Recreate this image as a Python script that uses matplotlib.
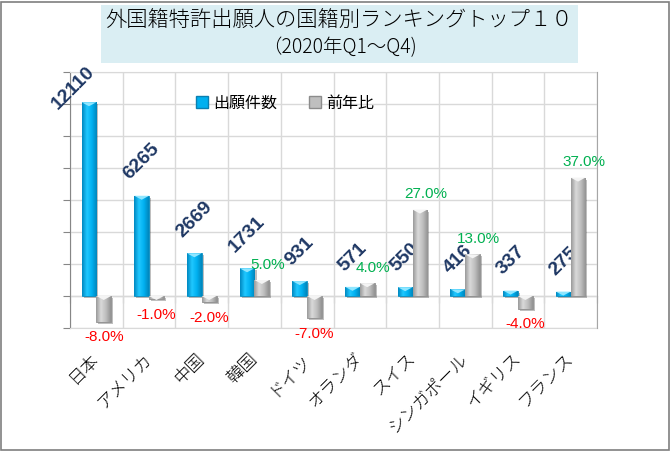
import matplotlib
matplotlib.use("Agg")
import matplotlib.pyplot as plt
import numpy as np
from matplotlib.lines import Line2D
from matplotlib.patches import Rectangle, Polygon
from matplotlib.colors import LinearSegmentedColormap
import matplotlib.patheffects as pe

JP = ['Noto Sans CJK JP', 'DejaVu Sans']
plt.rcParams['font.family'] = JP

countries = ['日本', 'アメリカ', '中国', '韓国', 'ドイツ', 'オランダ', 'スイス',
             'シンガポール', 'イギリス', 'フランス']
applications = [12110, 6265, 2669, 1731, 931, 571, 550, 416, 337, 275]
yoy_pct = [-8.0, -1.0, -2.0, 5.0, -7.0, 4.0, 27.0, 13.0, -4.0, 37.0]

title_1 = '外国籍特許出願人の国籍別ランキングトップ１０'
title_2 = '（2020年Q1～Q4)'

BLUE = '#00B0F0'
GRAY = '#BFBFBF'
NAVY = '#1F3864'
GREEN = '#00B050'
RED = '#FF0000'
GRID = '#D9D9D9'
AXIS = '#868686'

W, H = 671, 451
fig = plt.figure(figsize=(W / 100, H / 100), dpi=100)

# outer frame and title box
fig.patches.append(Rectangle((1 / W, 1 / H), 1 - 3 / W, 1 - 3 / H, transform=fig.transFigure,
                             fill=False, edgecolor='#7F7F7F', linewidth=1.2))
fig.patches.append(Rectangle((101 / W, 1 - 63 / H), 477 / W, 58 / H, transform=fig.transFigure,
                             facecolor='#DAEEF3', edgecolor='none'))
fig.text(339 / W, 1 - 21 / H, title_1, ha='center', va='center', fontsize=15.3,
         fontweight='light', color='black')
fig.text(340 / W, 1 - 48 / H, title_2, ha='center', va='center', fontsize=14,
         fontweight='light', color='black')

ax = fig.add_axes([70 / W, 1 - 328 / H, 527 / W, 256 / H])
ax2 = ax.twinx()

n = len(countries)
x = np.arange(n)
bw = 0.28

ax.set_xlim(-0.5, n - 0.5)
ax.set_ylim(-2000, 14000)
ax2.set_ylim(-10, 70)

# grid
ax.set_yticks(np.arange(-2000, 14001, 2000))
ax.set_xticks(x)
ax.set_xticks(np.arange(-0.5, n, 1.0), minor=True)
ax.grid(True, which='minor', axis='x', color=GRID, linewidth=1)
ax.grid(True, which='major', axis='y', color=GRID, linewidth=1)
ax.set_axisbelow(True)
ax.tick_params(axis='y', which='major', direction='out', length=5, color=AXIS, labelleft=False)
ax.tick_params(axis='x', which='both', length=0)
ax.set_xticklabels(countries, rotation=45, ha='right', va='center', rotation_mode='anchor',
                   fontsize=12.5, fontweight='light')
ax.tick_params(axis='x', pad=20)
ax2.set_yticks([])

for s in ['top', 'bottom']:
    ax.spines[s].set_color(GRID)
    ax2.spines[s].set_visible(False)
ax.spines['left'].set_color(AXIS)
ax.spines['right'].set_visible(False)
ax2.spines['left'].set_visible(False)
ax2.spines['right'].set_color('#A6A6A6')

# category axis crossing at zero
zero_ax = ax.secondary_xaxis(2000 / 16000)
zero_ax.set_xticks(np.arange(-0.5, n, 1.0))
zero_ax.tick_params(direction='out', length=5, color=AXIS, labelbottom=False, labeltop=False)
zero_ax.spines['bottom'].set_color(AXIS)
zero_ax.spines['top'].set_color(AXIS)

blue_cmap = LinearSegmentedColormap.from_list('b', ['#0088C0', '#20C8FF', '#00B0F0', '#0086BC'])
gray_cmap = LinearSegmentedColormap.from_list('g', ['#9A9A9A', '#DADADA', '#BEBEBE', '#939393'])
grad = np.linspace(0, 1, 64).reshape(1, -1)
shadow = [pe.withSimplePatchShadow(offset=(1.5, -1.5), shadow_rgbFace='#000000', alpha=0.25)]


def shaded_bars(axis, xs, vals, cmap, cap, edge, px_per_unit):
    bars = axis.bar(xs, vals, width=bw, color=cmap(0.5), edgecolor=edge, linewidth=0.6,
                    zorder=3, path_effects=shadow)
    d = 4 / px_per_unit
    for b in bars:
        x0, y0, w, h = b.get_x(), b.get_y(), b.get_width(), b.get_height()
        im = axis.imshow(grad, cmap=cmap, aspect='auto', extent=(x0, x0 + w, y0, y0 + h),
                         zorder=3.5, interpolation='bilinear')
        im.set_clip_path(b)
        top = max(y0, y0 + h)
        dd = min(d, abs(h)) if h > 0 else d
        axis.add_patch(Polygon([(x0, top), (x0 + w, top), (x0 + w / 2, top - dd)],
                               closed=True, facecolor=cap, edgecolor='none', zorder=4))
    return bars


blue_bars = shaded_bars(ax, x - bw / 2, applications, blue_cmap, '#8FE6FF', '#0A8CC0', 256 / 16000)
gray_bars = shaded_bars(ax2, x + bw / 2, yoy_pct, gray_cmap, '#F4F4F4', '#8C8C8C', 256 / 80)
ax.set_xlim(-0.5, n - 0.5)
ax.set_ylim(-2000, 14000)
ax2.set_ylim(-10, 70)

# count labels
for xi, v in zip(x, applications):
    if v > 0.8 * 14000:
        ax.annotate(f'{v}', (xi - bw, v), xytext=(-6, 10), textcoords='offset points',
                    rotation=45, ha='center', va='center', fontsize=14, color=NAVY,
                    fontweight='bold', family='Liberation Sans', zorder=6,
                    annotation_clip=False)
    else:
        ax.annotate(f'{v}', (xi - bw / 2, v), xytext=(0, 9), textcoords='offset points',
                    rotation=45, ha='center', va='bottom', fontsize=14, color=NAVY,
                    fontweight='bold', family='Liberation Sans', zorder=6)

# percent labels
for xi, v in zip(x, yoy_pct):
    if v >= 0:
        ax2.annotate(f'{v:.1f}%', (xi + bw / 2, v), xytext=(4, 6), textcoords='offset points',
                     ha='center', va='bottom', fontsize=11, color=GREEN,
                     family='Liberation Sans', zorder=6, annotation_clip=False)
    else:
        ax2.annotate(f'{v:.1f}%', (xi + bw / 2, v), xytext=(0, -6), textcoords='offset points',
                     ha='center', va='top', fontsize=11, color=RED,
                     family='Liberation Sans', zorder=6, annotation_clip=False)

handles = [Line2D([], [], marker='s', linestyle='none', markersize=8,
                  markerfacecolor=BLUE, markeredgecolor='#0A7FB0'),
           Line2D([], [], marker='s', linestyle='none', markersize=8,
                  markerfacecolor=GRAY, markeredgecolor='#8C8C8C')]
fig.legend(handles, ['出願件数', '前年比'], loc='center left',
           bbox_to_anchor=(181 / W, 1 - 103 / H), ncol=2, frameon=False,
           handlelength=0.8, handletextpad=0.3, columnspacing=2.0,
           prop={'family': JP, 'size': 11.5})

fig.savefig('out.png', dpi=100)
